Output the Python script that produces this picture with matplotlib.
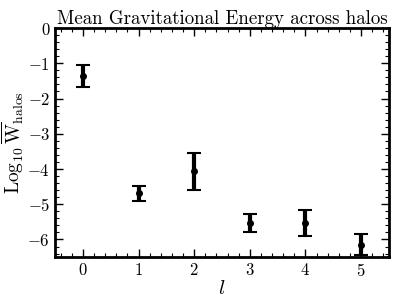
import numpy as np
import matplotlib
matplotlib.use("Agg")
import matplotlib.pyplot as plt
from matplotlib.ticker import MultipleLocator

l_vals = [0, 1, 2, 3, 4, 5]
log_w = [-1.36, -4.69, -4.07, -5.53, -5.53, -6.15]
log_w_err = [0.30, 0.22, 0.52, 0.25, 0.38, 0.30]

plt.rcParams['font.family'] = 'cmr10'
plt.rcParams['mathtext.fontset'] = 'cm'
plt.rcParams['axes.formatter.use_mathtext'] = True

fig = plt.figure(figsize=(3.96, 3.05), dpi=100)
ax = fig.add_axes([0.139, 0.157, 0.843, 0.751])

ax.errorbar(l_vals, log_w, yerr=log_w_err, fmt='o', color='k', ms=4,
            elinewidth=3, capsize=5, capthick=1.5)

ax.set_xlim(-0.5, 5.5)
ax.set_ylim(-6.5, 0)
ax.xaxis.set_major_locator(MultipleLocator(1))
ax.xaxis.set_minor_locator(MultipleLocator(0.2))
ax.yaxis.set_major_locator(MultipleLocator(1))
ax.yaxis.set_minor_locator(MultipleLocator(0.2))
ax.tick_params(which='both', direction='in', top=True, right=True, labelsize=12)
ax.tick_params(which='major', length=6, width=1)
ax.tick_params(which='minor', length=3, width=0.8)
for sp in ax.spines.values():
    sp.set_linewidth(2)

ax.set_title('Mean Gravitational Energy across halos', fontsize=13.6, pad=2)
ax.set_xlabel(r'$l$', fontsize=15, labelpad=1)
ax.set_ylabel(r'$\mathrm{Log}_{10}\,\overline{\mathrm{W}}_{\mathrm{halos}}$', fontsize=14)
ax.yaxis.set_label_coords(-0.088, 0.5)

fig.savefig('out.png', dpi=100)
